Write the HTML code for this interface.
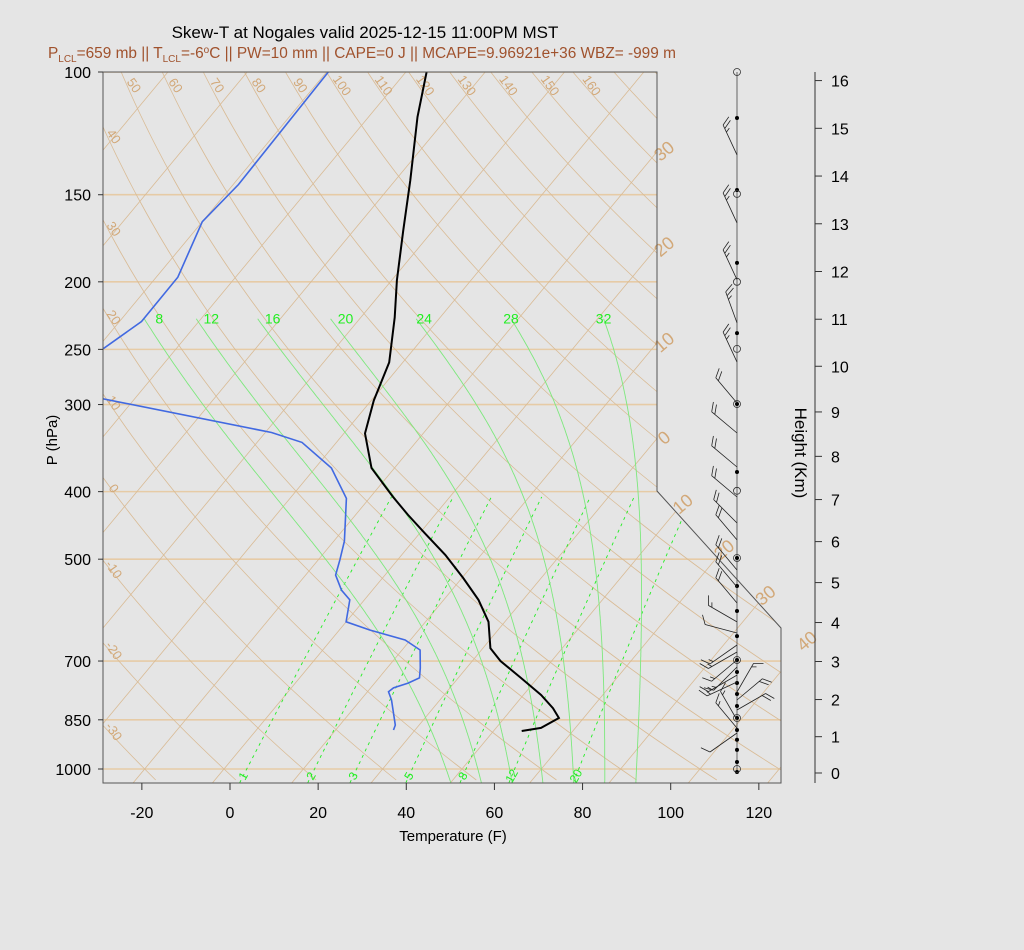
<!DOCTYPE html>
<html><head><meta charset="utf-8"><title>Skew-T Nogales</title>
<style>
html,body{margin:0;padding:0;background:#e5e5e5;}
svg{display:block;font-family:"Liberation Sans",sans-serif;}
</style></head>
<body>
<svg id="chart" width="1024" height="950" viewBox="0 0 1024 950" xmlns="http://www.w3.org/2000/svg">
<rect x="0" y="0" width="1024" height="950" fill="#e5e5e5"/>
<text x="365" y="38" font-size="17" text-anchor="middle" fill="#000">Skew-T at Nogales valid 2025-12-15 11:00PM MST</text>
<text x="48" y="58" font-size="15.4" fill="#a0522d">P<tspan font-size="10" dy="4">LCL</tspan><tspan dy="-4">=659 mb || T</tspan><tspan font-size="10" dy="4">LCL</tspan><tspan dy="-4">=-6</tspan><tspan font-size="10" dy="-5">o</tspan><tspan dy="5">C || PW=10 mm || CAPE=0 J || MCAPE=9.96921e+36 WBZ= -999 m</tspan></text>
<defs>
<clipPath id="plotclip"><polygon points="103,72 657,72 657,491 781,628 781,783 103,783"/></clipPath>
</defs>
<g id="bg" clip-path="url(#plotclip)"></g>
<g id="lbl"></g>
<g id="data" clip-path="url(#plotclip)"></g>
<polygon points="103,72 657,72 657,491 781,628 781,783 103,783" fill="none" stroke="#555" stroke-width="1"/>
<g id="axes"></g>
<g id="wind"></g>
<text x="453" y="841" font-size="15" text-anchor="middle">Temperature (F)</text>
<text transform="translate(57,440) rotate(-90)" font-size="15" text-anchor="middle">P (hPa)</text>
<text transform="translate(795,453) rotate(90)" font-size="17" text-anchor="middle">Height (Km)</text>
</svg>
<script>
// ---- data ----
const tempP = [96,100,116,143,169,199,225,261,296,330,370,407,432,459,493,532,572,615,671,700,740,783,818,845,873,882];
const tempF = [-89,-89.3,-82.9,-72.6,-64.7,-56.8,-50.3,-43.1,-39.4,-35.2,-27.2,-16.9,-10.1,-2.8,5.9,14.3,21.9,28.3,33.7,38.4,46.2,54.0,59.2,62.4,60.2,56.4];
const dewP = [100,145,164,197,228,251,272,294,329,340,370,409,471,501,527,554,572,615,632,653,675,716,740,753,765,775,796,865,879];
const dewF = [-111.6,-110.8,-112,-107.1,-107,-110.8,-125,-101.7,-56.6,-47.8,-36.3,-27.2,-19.6,-17.1,-15.2,-11.0,-7.3,-4.0,3.0,12.8,18.1,21.5,23.2,21.6,19.2,18.8,21.0,26.6,27.1];
const isobarLevels = [100,150,200,250,300,400,500,700,850,1000];
const xTickValues = [-20,0,20,40,60,80,100,120];
const heightTicksKm = [0,1,2,3,4,5,6,7,8,9,10,11,12,13,14,15,16];
const mixRatios = [1,2,3,5,8,12,20];
const moistThetaW = [8,12,16,20,24,28,32];
const dryLabelsTop = [50,60,70,80,90,100,110,120,130,140,150,160];
const dryLabelsLeft = [40,30,20,10,0,-10,-20,-30];
const isoLabelsEdge = [-30,-20,-10,0];
const isoLabelsDiag = [10,20,30,40];
const windP = [131.5,164.6,198.6,229.1,260.7,298.5,329.6,368.7,407.1,443.6,469.2,518.2,548.2,577.8,615.2,638.1,663.9,679.5,697.6,713.9,733.2,750.2,775.4,796.2,823,850.5,873.5,888];
const windDir = [335,335,335,340,335,320,310,310,310,315,320,320,320,320,300,285,235,240,230,225,240,245,30,50,60,330,320,235];
const windSpd = [25,25,25,25,25,20,20,20,20,20,20,20,20,20,15,10,15,15,15,15,15,15,15,20,20,15,15,10];
const dotP = [116.4,147.7,187.9,236.9,299.5,374.9,498.1,546.4,593.3,644.6,697.6,725.8,752.6,780.5,812,844.8,879,908,938.9,977,1010];
const circleP = [100,149.6,200,249.6,299.5,398.9,498,697.6,845,1000];

// ---- axis functions ----
const NS = "http://www.w3.org/2000/svg";
const X0 = 230, SX = 4.407, SK = 0.83, YB = 783, PB = 1047;
function yP(p){ return 72 + 697*Math.log10(p/100); }
function pY(y){ return 100*Math.pow(10,(y-72)/697); }
function xTF(tf,p){ return X0 + SX*tf + SK*(YB - yP(p)); }
function c2f(c){ return c*9/5+32; }
function mk(parent, tag, attrs, name){
  const el = document.createElementNS(NS, tag);
  for (const k in attrs) el.setAttribute(k, attrs[k]);
  
  
  parent.appendChild(el);
  return el;
}
function pathD(pts){ return pts.map((q,i)=>(i?'L':'M')+q[0].toFixed(1)+','+q[1].toFixed(1)).join(''); }
const bg = document.getElementById('bg'), lbl = document.getElementById('lbl');
const dataG = document.getElementById('data'), axes = document.getElementById('axes'), wind = document.getElementById('wind');
const TAN = '#d9bb95', TANL = '#d2a878', GREEN = '#22ee22';

// isobars
isobarLevels.forEach(p=>{
  mk(bg,'line',{x1:103,x2:790,y1:yP(p),y2:yP(p),stroke:'#e6cba6','stroke-width':1.6},'isobar-'+p);
});
// isotherms
for (let c=-140;c<=60;c+=10){
  const f=c2f(c);
  mk(bg,'line',{x1:xTF(f,PB),y1:yP(PB),x2:xTF(f,90),y2:yP(90),stroke:TAN,'stroke-width':0.8},'isotherm');
}
// dry adiabats
function dryX(th,p){ const tk=(th+273.15)*Math.pow(p/1000,0.286); return xTF(c2f(tk-273.15),p); }
for (let th=-40;th<=200;th+=10){
  const pts=[]; for(let y=60;y<=YB;y+=8){ const p=pY(y); pts.push([dryX(th,p),y]); }
  mk(bg,'path',{d:pathD(pts),fill:'none',stroke:TAN,'stroke-width':0.8},'dry-adiabat');
}
// mixing ratio lines
function mixX(w,p){ const e=w*p/(622+w); const l=Math.log(e/6.112); const td=243.5*l/(17.67-l); return xTF(c2f(td),p); }
mixRatios.forEach(w=>{
  const pts=[]; for(let p=PB;p>=400;p-=10) pts.push([mixX(w,p),yP(p)]);
  mk(bg,'path',{d:pathD(pts),fill:'none',stroke:GREEN,'stroke-width':0.9,'stroke-dasharray':'3,4'},'mixing-ratio-line');
  const x=mixX(w,pY(775));
  const t=mk(lbl,'text',{transform:`translate(${x+3},778) rotate(-60)`,'font-size':12,fill:GREEN,'text-anchor':'middle'},'mixing-ratio-label');
  t.textContent=w;
});
// moist adiabats
function esat(tc){ return 6.112*Math.exp(17.67*tc/(tc+243.5)); }
function dTdp(T,p){ const es=esat(T-273.15); const rs=0.622*es/(p-es); const Lv=2.501e6,Rd=287.04,cp=1005.7;
  return (Rd*T+Lv*rs)/(p*(cp+Lv*Lv*rs*0.622/(Rd*T*T))); }
moistThetaW.forEach(tw=>{
  const up=[]; let T=tw+273.15; for(let p=1000;p>=225;p-=2){ up.push([p,T]); T-=dTdp(T,p)*2; }
  const dn=[]; T=tw+273.15; for(let p=1000;p<=PB+4;p+=2){ dn.push([p,T]); T+=dTdp(T,p)*2; }
  const all=dn.reverse().concat(up);
  const pts=all.map(a=>[xTF(c2f(a[1]-273.15),a[0]),yP(a[0])]);
  mk(bg,'path',{d:pathD(pts),fill:'none',stroke:'#7de87d','stroke-width':0.9},'moist-adiabat');
  const last=pts[pts.length-1];
  const off = tw<=20 ? 15 : (tw<=24 ? 8 : 0);
  const t=mk(lbl,'text',{x:last[0]+off,y:yP(225)+6,'font-size':14,fill:GREEN,'text-anchor':'middle'},'moist-adiabat-label');
  t.textContent=tw;
});
// isotherm labels
isoLabelsEdge.forEach(c=>{
  const f=c2f(c); const y=YB-(657-X0-SX*f)/SK;
  const t=mk(lbl,'text',{transform:`translate(${668},${y+4}) rotate(-40)`,'font-size':18,fill:TANL,'text-anchor':'middle'},'isotherm-label');
  t.textContent=Math.abs(c);
});
isoLabelsDiag.forEach(c=>{
  const a=X0+SX*c2f(c); const x=(a+SK*(292+657*1.105))/(1+SK*1.105); const y=491+(x-657)*1.105;
  const t=mk(lbl,'text',{transform:`translate(${x+11},${y-3}) rotate(-40)`,'font-size':18,fill:TANL,'text-anchor':'middle'},'isotherm-label');
  t.textContent=c;
});
// dry adiabat labels
dryLabelsTop.forEach(th=>{
  const x=dryX(th,pY(86));
  const t=mk(lbl,'text',{transform:`translate(${x+6},${86}) rotate(55)`,'font-size':13,fill:TANL,'text-anchor':'middle','dominant-baseline':'middle'},'dry-adiabat-label');
  t.textContent=th;
});
dryLabelsLeft.forEach(th=>{
  let yy=YB; for(let y=72;y<=YB;y++){ if(dryX(th,pY(y))>=120){ yy=y; break; } }
  const t=mk(lbl,'text',{transform:`translate(113,${yy-12-(th>0?th*0.35:0)}) rotate(55)`,'font-size':13,fill:TANL,'text-anchor':'middle','dominant-baseline':'middle'},'dry-adiabat-label');
  t.textContent=th;
});
// sounding lines
mk(dataG,'path',{d:pathD(dewP.map((p,i)=>[xTF(dewF[i],p),yP(p)])),fill:'none',stroke:'#4169e1','stroke-width':1.6},'dewpoint-line');
mk(dataG,'path',{d:pathD(tempP.map((p,i)=>[xTF(tempF[i],p),yP(p)])),fill:'none',stroke:'#000','stroke-width':2},'temperature-line');
// axes: pressure labels & ticks
isobarLevels.forEach(p=>{
  const t=mk(axes,'text',{x:91,y:yP(p)+6,'font-size':16,'text-anchor':'end'},'pressure-tick-label');
  t.textContent=p;
  mk(axes,'line',{x1:98,x2:103,y1:yP(p),y2:yP(p),stroke:'#333'},'pressure-tick');
});
xTickValues.forEach(f=>{
  const x=X0+SX*f;
  mk(axes,'line',{x1:x,x2:x,y1:783,y2:790,stroke:'#333'},'x-tick');
  const t=mk(axes,'text',{x:x,y:818,'font-size':16,'text-anchor':'middle'},'x-tick-label');
  t.textContent=f;
});
// height axis
function pZ(km){ const z=km*1000; return z<=11000 ? 1013.25*Math.pow(1-2.2558e-5*z,5.2559) : 226.32*Math.exp(-(z-11000)/6341.6); }
mk(axes,'line',{x1:815,x2:815,y1:72,y2:783,stroke:'#333'},'height-axis-line');
heightTicksKm.forEach(k=>{
  const y=yP(pZ(k));
  mk(axes,'line',{x1:815,x2:822,y1:y,y2:y,stroke:'#333'},'height-tick');
  const t=mk(axes,'text',{x:831,y:y+6,'font-size':16},'height-tick-label');
  t.textContent=k;
});
// wind staff, dots, barbs
mk(wind,'line',{x1:737,x2:737,y1:72,y2:773,stroke:'#444','stroke-width':0.8},'wind-staff');
dotP.forEach(p=>{ mk(wind,'circle',{cx:737,cy:yP(p),r:2,fill:'#000'},'wind-level-dot'); });
circleP.forEach(p=>{ mk(wind,'circle',{cx:737,cy:yP(p),r:3.5,fill:'none',stroke:'#333','stroke-width':0.8},'mandatory-level-circle'); });
windP.forEach((p,i)=>{
  const d=windDir[i]*Math.PI/180, L=33;
  const ux=Math.sin(d), uy=-Math.cos(d);
  const bx=737, by=yP(p), tx=bx+ux*L, ty=by+uy*L;
  const ang=Math.atan2(uy,ux)+Math.PI/3;
  const fx=Math.cos(ang), fy=Math.sin(ang);
  let s='M'+bx+','+by.toFixed(1)+'L'+tx.toFixed(1)+','+ty.toFixed(1);
  let spd=windSpd[i], k=0;
  while(spd>=10){ const px=tx-ux*k*4, py=ty-uy*k*4; s+='M'+px.toFixed(1)+','+py.toFixed(1)+'l'+(fx*10).toFixed(1)+','+(fy*10).toFixed(1); spd-=10; k++; }
  if(spd>=5){ const px=tx-ux*k*4, py=ty-uy*k*4; s+='M'+px.toFixed(1)+','+py.toFixed(1)+'l'+(fx*5).toFixed(1)+','+(fy*5).toFixed(1); }
  mk(wind,'path',{d:s,fill:'none',stroke:'#222','stroke-width':0.8},'wind-barb');
});
</script>
</body></html>
